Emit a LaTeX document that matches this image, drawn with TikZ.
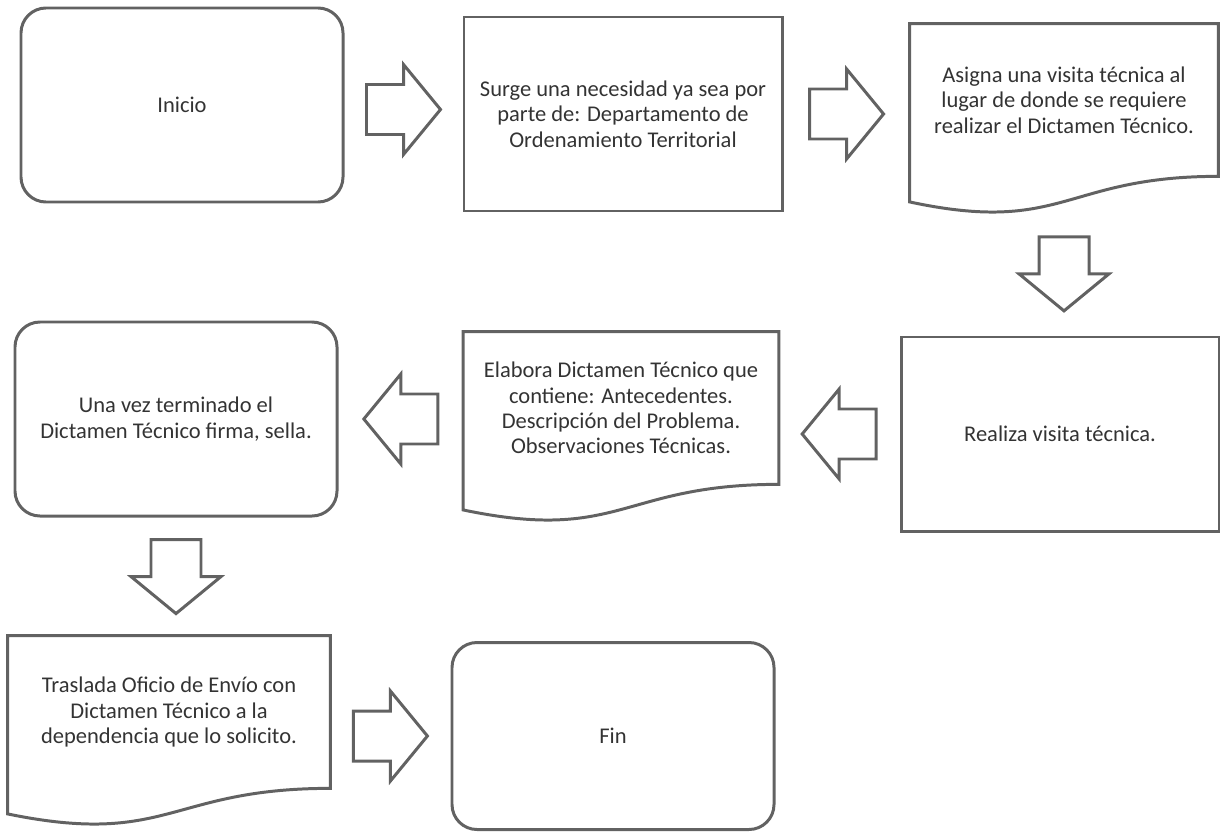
\documentclass[tikz,border=0pt]{standalone}
\usepackage{fontspec}
\setmainfont{Carlito}
\usepackage{tikz}
\usetikzlibrary{calc}

\definecolor{linegray}{HTML}{626262}
\definecolor{textgray}{HTML}{333333}

% outline of a document box: wavy bottom below the text node
\newcommand{\docoutline}[1]{%
  \draw[outline] (#1.north west) -- (#1.north east) -- (#1.south east)
    .. controls (#1.south) and ($(#1.south)!-0.384!(#1.north)$)
    .. ($(#1.south west)!-0.1675!(#1.north west)$) -- cycle;
  \coordinate (#1-bottom) at ($(#1.south)!-0.235!(#1.north)$);
}

\tikzset{
  outline/.style={draw=linegray, line width=1.7pt},
  boxtext/.style={font=\fontsize{12.8}{14.4}\selectfont, text=textgray, align=center},
  startbox/.style={boxtext, outline, rounded corners=0.5cm, minimum width=6.44cm, minimum height=3.88cm},
  procbox/.style={boxtext, outline, minimum width=6.36cm, minimum height=3.88cm},
  docbox/.style={boxtext, minimum width=6.3cm, minimum height=3.04cm},
  blockarrow/.pic={
    \draw[outline] (-37,-25) -- (0,-25) -- (0,-45) -- (37,0) -- (0,45) -- (0,25) -- (-37,25) -- cycle;
  }
}

\begin{document}
\begin{tikzpicture}[x=0.2mm, y=-0.2mm, line join=miter]
    \useasboundingbox (0,0) rectangle (1220,831);

    % --- first row ---
    \node[startbox] (inicio) at (182,105) {Inicio};
    \node[procbox] (surge) at (623,114) {Surge una necesidad ya sea por\\parte de: Departamento de\\Ordenamiento Territorial};
    \node[docbox, minimum width=6.16cm] (asigna) at (1064,100) {Asigna una visita técnica al\\lugar de donde se requiere\\realizar el Dictamen Técnico.};
    \docoutline{asigna}

    % --- second row ---
    \node[procbox] (realiza) at (1060,434) {Realiza visita técnica.};
    \node[docbox] (elabora) at (621,408) {Elabora Dictamen Técnico que\\contiene: Antecedentes.\\Descripción del Problema.\\Observaciones Técnicas.};
    \docoutline{elabora}
    \node[startbox] (una) at (176,419) {Una vez terminado el\\Dictamen Técnico firma, sella.};

    % --- third row ---
    \node[docbox, minimum width=6.44cm] (traslada) at (169,712) {Traslada Oficio de Envío con\\Dictamen Técnico a la\\dependencia que lo solicito.};
    \docoutline{traslada}
    \node[startbox, minimum height=3.74cm] (fin) at (613,736) {Fin};

    % block arrows
    \pic at ($(inicio.east)!0.5!(surge.west)$) {blockarrow};
    \pic at ($(surge.east)!0.5!(surge.east -| asigna.west)$) {blockarrow};
    \pic[rotate=-90] at ($(asigna-bottom)!0.5!(asigna-bottom |- realiza.north)$) {blockarrow};
    \pic[rotate=180] at ($(realiza.west)!0.5!(realiza.west -| elabora.east)$) {blockarrow};
    \pic[rotate=180] at ($(una.east)!0.5!(una.east -| elabora.west)$) {blockarrow};
    \pic[rotate=-90] at ($(una.south)!0.5!(una.south |- traslada.north)$) {blockarrow};
    \pic at ($(traslada.east |- fin.west)!0.5!(fin.west)$) {blockarrow};
\end{tikzpicture}
\end{document}
